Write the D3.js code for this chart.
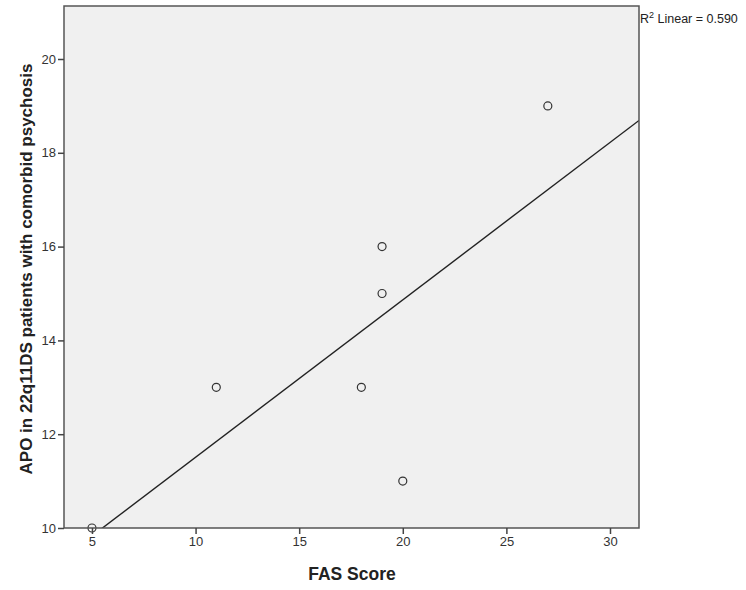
<!DOCTYPE html>
<meta charset="utf-8">
<script src="https://d3js.org/d3.v7.min.js"></script>
<style>
  body { margin: 0; background: #fff; }
  text { font-family: "Liberation Sans", Arial, sans-serif; }
</style>
<div id="my_dataviz"></div>
<script>
    // data
    const fasScore = [5, 11, 18, 19, 19, 20, 27];
    const apo = [10, 13, 13, 15, 16, 11, 19];
    const xTicks = [5, 10, 15, 20, 25, 30];
    const yTicks = [10, 12, 14, 16, 18, 20];

    const margin = {top: 6, right: 107, bottom: 62, left: 64},
        width = 746 - margin.left - margin.right,
        height = 590 - margin.top - margin.bottom;

    const svg = d3.select("#my_dataviz")
      .append("svg")
        .attr("width", 746)
        .attr("height", 590)
      .append("g")
        .attr("transform", `translate(${margin.left},${margin.top})`);

    const x = d3.scaleLinear().domain([3.65, 31.4]).range([0, width]);
    const y = d3.scaleLinear().domain([10, 21.13]).range([height, 0]);

    // plot background
    svg.append("rect")
      .attr("width", width)
      .attr("height", height)
      .attr("fill", "#f0f0f0");

    svg.append("clipPath").attr("id", "clip")
      .append("rect").attr("width", width).attr("height", height);

    // linear fit
    const mx = d3.mean(fasScore), my = d3.mean(apo);
    let sxy = 0, sxx = 0, syy = 0;
    fasScore.forEach((d, i) => {
      sxy += (d - mx) * (apo[i] - my);
      sxx += (d - mx) * (d - mx);
      syy += (apo[i] - my) * (apo[i] - my);
    });
    const slope = sxy / sxx, icpt = my - slope * mx;
    const r2 = sxy * sxy / (sxx * syy);
    const xd = x.domain();
    svg.append("line")
      .attr("clip-path", "url(#clip)")
      .attr("x1", x(xd[0])).attr("y1", y(icpt + slope * xd[0]))
      .attr("x2", x(xd[1])).attr("y2", y(icpt + slope * xd[1]))
      .attr("stroke", "#222")
      .attr("stroke-width", 1.4);

    // points
    svg.selectAll("circle.pt")
      .data(fasScore)
      .join("circle")
        .attr("class", "pt")
        .attr("cx", d => x(d))
        .attr("cy", (d, i) => y(apo[i]))
        .attr("r", 4)
        .attr("fill", "none")
        .attr("stroke", "#333")
        .attr("stroke-width", 1.2);

    // frame
    svg.append("rect")
      .attr("width", width)
      .attr("height", height)
      .attr("fill", "none")
      .attr("stroke", "#555")
      .attr("stroke-width", 1.5);

    // axes
    const xAxis = svg.append("g")
      .attr("transform", `translate(0, ${height})`)
      .call(d3.axisBottom(x).tickValues(xTicks).tickSize(6).tickPadding(3));
    const yAxis = svg.append("g")
      .call(d3.axisLeft(y).tickValues(yTicks).tickSize(6).tickPadding(2));
    [xAxis, yAxis].forEach(g => {
      g.select(".domain").remove();
      g.selectAll("line").attr("stroke", "#444").attr("stroke-width", 1.5);
      g.selectAll("text").attr("fill", "#333").style("font-size", "13px")
        .style("font-family", "'Liberation Sans', Arial, sans-serif");
    });

    // axis titles
    svg.append("text")
      .attr("x", 288)
      .attr("y", height + 52)
      .attr("text-anchor", "middle")
      .style("font-size", "17.5px")
      .style("font-weight", "bold")
      .attr("fill", "#222")
      .text("FAS Score");
    svg.append("text")
      .attr("transform", `translate(${-32}, ${height / 2 + 2}) rotate(-90)`)
      .attr("text-anchor", "middle")
      .style("font-size", "17px")
      .style("font-weight", "bold")
      .attr("fill", "#222")
      .text("APO in 22q11DS patients with comorbid psychosis");

    // R squared label
    const lab = svg.append("text")
      .attr("x", width + 1)
      .attr("y", 17)
      .style("font-size", "12.5px")
      .attr("fill", "#222");
    lab.append("tspan").text("R");
    lab.append("tspan").attr("dy", -5).style("font-size", "9px").text("2");
    lab.append("tspan").attr("dy", 5).text(" Linear = " + r2.toFixed(3));
</script>
